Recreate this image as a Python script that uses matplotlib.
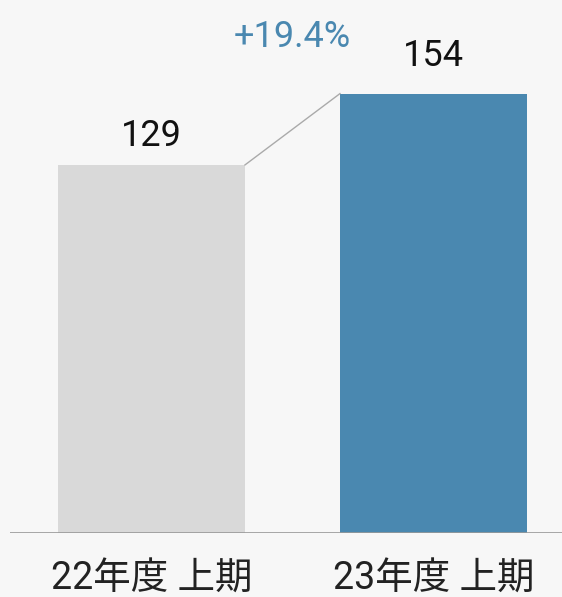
import matplotlib
matplotlib.use("Agg")
import matplotlib.pyplot as plt

categories = ["22年度 上期", "23年度 上期"]
values = [129, 154]
growth_label = "+19.4%"
bar_colors = ["#d9d9d9", "#4a88b0"]

plt.rcParams['font.family'] = ['Roboto', 'Noto Sans CJK JP', 'DejaVu Sans']

fig = plt.figure(figsize=(5.62, 5.97), dpi=100, facecolor="#f7f7f7")
W, H = 562, 597
ax = fig.add_axes([10 / W, (H - 533) / H, 552 / W, 533 / H])
ax.set_facecolor("#f7f7f7")

x = [0, 1]
width = 0.663
ax.bar(x, values, width=width, color=bar_colors, zorder=2)
ax.set_xlim(-0.502, 1.456)
ax.set_ylim(0, 186.8)

ax.plot([x[0] + width / 2, x[1] - width / 2], [values[0], values[1]],
        color="#aaaaaa", lw=1.0, zorder=3)

offsets = [19, 28]
for xi, v, off in zip(x, values, offsets):
    ax.annotate(str(v), (xi, v), xytext=(0, off * 0.72), textcoords="offset points",
                ha="center", va="baseline", fontsize=26, fontweight="normal",
                color="#111111")

ax.text(0.5, 170.3, growth_label, ha="center", va="baseline", fontsize=26,
        fontweight="normal", color="#4a88b0")

ax.axhline(0, color="#999999", lw=1.2, zorder=4)

for s in ax.spines.values():
    s.set_visible(False)
ax.set_yticks([])
ax.set_xticks(x)
ax.set_xticklabels(categories, fontsize=27, fontweight="normal", color="#222222")
ax.tick_params(axis="x", length=0, pad=20)

fig.savefig("out.png", dpi=100, facecolor=fig.get_facecolor())
